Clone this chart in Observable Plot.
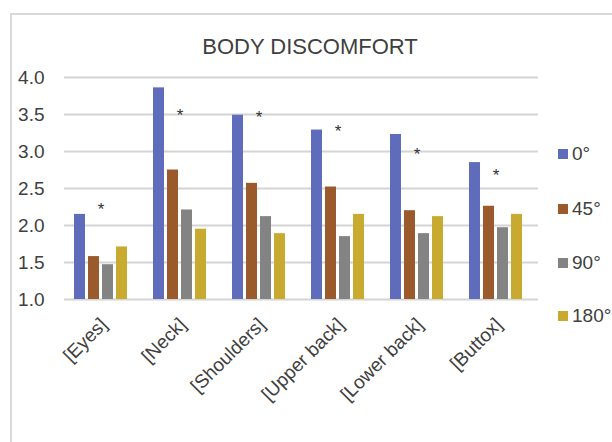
<!DOCTYPE html>
<html>
<head>
<meta charset="utf-8">
<script src="https://cdn.jsdelivr.net/npm/d3@7"></script>
<script src="https://cdn.jsdelivr.net/npm/@observablehq/plot@0.6"></script>
<style>
  html, body { margin: 0; padding: 0; background: #fff; }
  #wrap { position: relative; width: 612px; height: 442px; overflow: hidden; font-family: "Liberation Sans", Arial, sans-serif; color: #404040; }
  #frame { position: absolute; left: 10px; top: 13px; width: 700px; height: 500px; border-left: 2px solid #d9d9d9; border-top: 2px solid #d9d9d9; box-sizing: border-box; }
  #title { position: absolute; left: 0; width: 620px; top: 34px; text-align: center; font-size: 22px; }
  #chart { position: absolute; left: 0; top: 0; }
  #legend { position: absolute; left: 558px; top: 0; font-size: 19px; }
  .item { position: absolute; left: 0; white-space: nowrap; line-height: 20px; }
  .sw { display: inline-block; width: 10px; height: 10px; margin-right: 4px; vertical-align: 1px; }
</style>
</head>
<body>
<div id="wrap">
  <div id="frame"></div>
  <div id="chart"></div>
  <div id="title">BODY DISCOMFORT</div>
  <div id="legend"></div>
</div>
<script>
const categories = ["[Eyes]", "[Neck]", "[Shoulders]", "[Upper back]", "[Lower back]", "[Buttox]"];
const seriesNames = ["0°", "45°", "90°", "180°"];
const colors = ["#5f6cbc", "#9b5a2b", "#838383", "#c9aa30"];
const values0 = [2.15, 3.86, 3.49, 3.29, 3.23, 2.85];
const values45 = [1.58, 2.75, 2.57, 2.52, 2.20, 2.26];
const values90 = [1.47, 2.21, 2.12, 1.85, 1.89, 1.97];
const values180 = [1.71, 1.95, 1.89, 2.15, 2.12, 2.15];
const starY = [2.25, 3.53, 3.50, 3.31, 3.00, 2.71];
const yTicks = [1.0, 1.5, 2.0, 2.5, 3.0, 3.5, 4.0];

const seriesValues = [values0, values45, values90, values180];
const rows = [];
categories.forEach((c, i) => {
  seriesNames.forEach((s, j) => rows.push({category: c, series: s, value: seriesValues[j][i]}));
});
const stars = categories.map((c, i) => ({category: c, series: "45°", value: starY[i]}));

const chart = Plot.plot({
  width: 612,
  height: 442,
  marginTop: 77,
  marginBottom: 143,
  marginLeft: 62,
  marginRight: 72,
  style: {fontFamily: "'Liberation Sans', Arial, sans-serif", color: "#404040", background: "transparent"},
  fx: {domain: categories, padding: 0, label: null},
  x: {domain: seriesNames, paddingInner: 0.2, paddingOuter: 0.87, align: 0.4, axis: null},
  y: {domain: [1, 4], label: null},
  color: {domain: seriesNames, range: colors},
  marks: [
    Plot.ruleY(yTicks, {stroke: "#d4d4d4", strokeWidth: 2}),
    Plot.rectY(rows, {fx: "category", x: "series", y1: 1, y2: "value", fill: "series"}),
    Plot.text(stars, {fx: "category", x: "series", y: "value", text: () => "*", dx: 7, dy: 3, fontSize: 17, fill: "#333333"}),
    Plot.axisY(yTicks, {tickSize: 0, tickPadding: 20, tickFormat: d3.format(".1f"), fontSize: 19, fill: "#404040"}),
    Plot.axisFx({anchor: "bottom", tickRotate: -45, tickSize: 0, tickPadding: 22, fontSize: 19, fill: "#404040", label: null})
  ]
});
document.getElementById("chart").appendChild(chart);

const legend = document.getElementById("legend");
const legendTops = [144, 199, 253, 306];
seriesNames.forEach((s, j) => {
  const d = document.createElement("div");
  d.className = "item";
  d.style.top = legendTops[j] + "px";
  d.innerHTML = `<span class="sw" style="background:${colors[j]}"></span>${s}`;
  legend.appendChild(d);
});
</script>
</body>
</html>
